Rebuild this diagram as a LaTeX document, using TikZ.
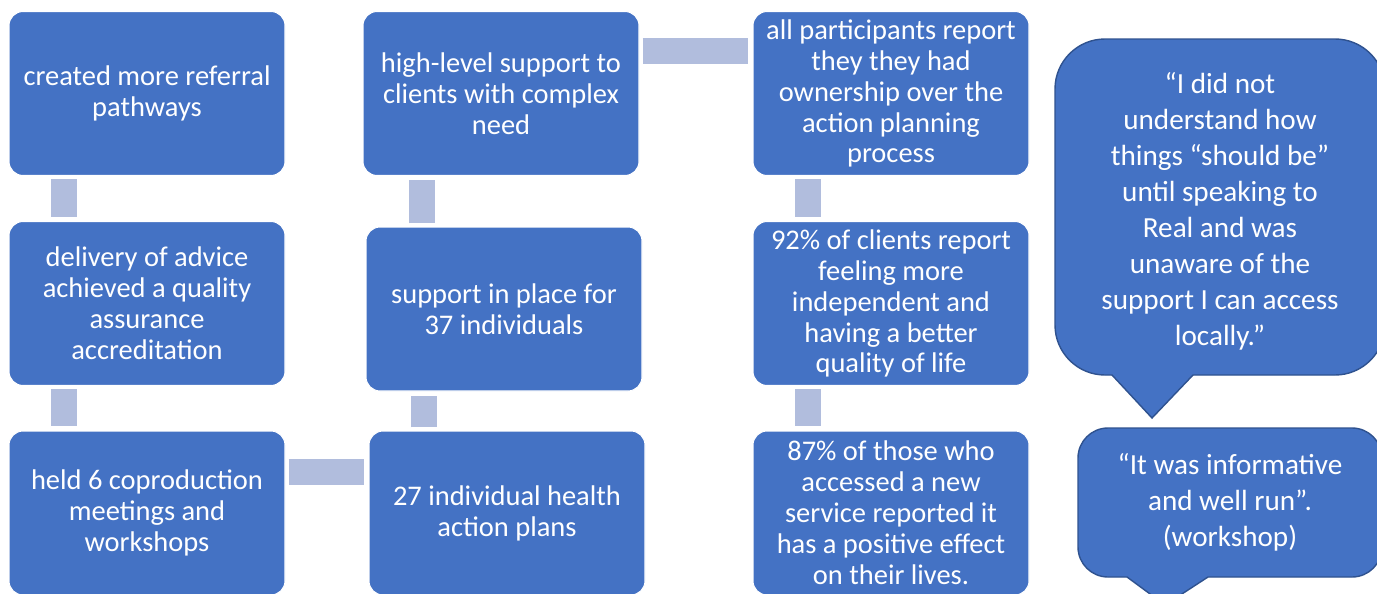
\documentclass[tikz,border=0pt]{standalone}
\usepackage{fontspec}
\setmainfont{Carlito}
\definecolor{boxblue}{HTML}{4472C4}
\definecolor{edgeblue}{HTML}{2F528F}
\definecolor{barblue}{HTML}{B1BDDD}

\begin{document}
\begin{tikzpicture}[
  stepbox/.style={draw=white, line width=0.6pt, fill=boxblue, rectangle, rounded corners=8pt, minimum width=5.52cm, minimum height=3.28cm, align=center, text=white, font=\fontsize{16.2}{17.6}\selectfont, inner sep=2pt},
  bar/.style={draw=barblue, line width=0.52cm, shorten <=0.06cm, shorten >=0.08cm},
  callout/.style={draw=edgeblue, line width=0.8pt, fill=boxblue},
  quote/.style={align=center, text=white, font=\fontsize{16.6}{20.5}\selectfont}
]

% page frame
\clip (0,0) rectangle (27.54,-11.86);

% ===== COLUMN 1 =====
\node[stepbox] at (2.94, -1.87) (refer) {created more referral\\pathways};
\node[stepbox] at (2.94, -6.07) (advice) {delivery of advice\\achieved a quality\\assurance\\accreditation};
\node[stepbox] at (2.94, -10.26) (coprod) {held 6 coproduction\\meetings and\\workshops};

% ===== COLUMN 2 =====
\node[stepbox] at (10.02, -1.87) (highlvl) {high-level support to\\clients with complex\\need};
\node[stepbox] at (10.08, -6.18) (inplace) {support in place for\\37 individuals};
\node[stepbox] at (10.14, -10.26) (plans) {27 individual health\\action plans};

% ===== COLUMN 3 =====
\node[stepbox] at (17.82, -1.87) (owner) {all participants report\\they they had\\ownership over the\\action planning\\process};
\node[stepbox] at (17.82, -6.07) (indep) {92\% of clients report\\feeling more\\independent and\\having a better\\quality of life};
\node[stepbox] at (17.82, -10.26) (effect) {87\% of those who\\accessed a new\\service reported it\\has a positive effect\\on their lives.};

% Bars between the boxes
\draw[bar] ([xshift=-1.66cm]refer.south) -- ([xshift=-1.66cm]advice.north);
\draw[bar] ([xshift=-1.66cm]advice.south) -- ([xshift=-1.66cm]coprod.north);
\draw[bar] ([yshift=0.83cm]coprod.east) -- ([yshift=0.83cm]plans.west);
\draw[bar] ([xshift=-1.67cm]plans.north) -- ([xshift=-1.61cm]inplace.south);
\draw[bar] ([xshift=-1.65cm]inplace.north) -- ([xshift=-1.59cm]highlvl.south);
\draw[bar] ([yshift=0.86cm]highlvl.east) -- ([yshift=0.86cm]owner.west);
\draw[bar] ([xshift=-1.66cm]owner.south) -- ([xshift=-1.66cm]indep.north);
\draw[bar] ([xshift=-1.66cm]indep.south) -- ([xshift=-1.66cm]effect.north);

% ===== QUOTES =====
\draw[callout] (22.24,-7.5) -- (23.04,-8.36) -- (23.86,-7.5) -- (26.7,-7.5)
  arc[start angle=-90, end angle=0, radius=1] -- (27.7,-1.78)
  arc[start angle=0, end angle=90, radius=1] -- (22.1,-0.78)
  arc[start angle=90, end angle=180, radius=1] -- (21.1,-6.5)
  arc[start angle=180, end angle=270, radius=1] -- cycle;
\node[quote] at (24.4, -4.23) (quote1) {“I did not\\understand how\\things “should be”\\until speaking to\\Real and was\\unaware of the\\support I can access\\locally.”};

\draw[callout] (22.54,-11.54) -- (23.3,-12.1) -- (24.16,-11.54) -- (27.04,-11.54)
  arc[start angle=-90, end angle=0, radius=0.6] -- (27.64,-9.16)
  arc[start angle=0, end angle=90, radius=0.6] -- (22.16,-8.56)
  arc[start angle=90, end angle=180, radius=0.6] -- (21.56,-10.94)
  arc[start angle=180, end angle=270, radius=0.6] -- cycle;
\node[quote] at (24.6, -10.04) (quote2) {“It was informative\\and well run”.\\(workshop)};

\end{tikzpicture}
\end{document}
